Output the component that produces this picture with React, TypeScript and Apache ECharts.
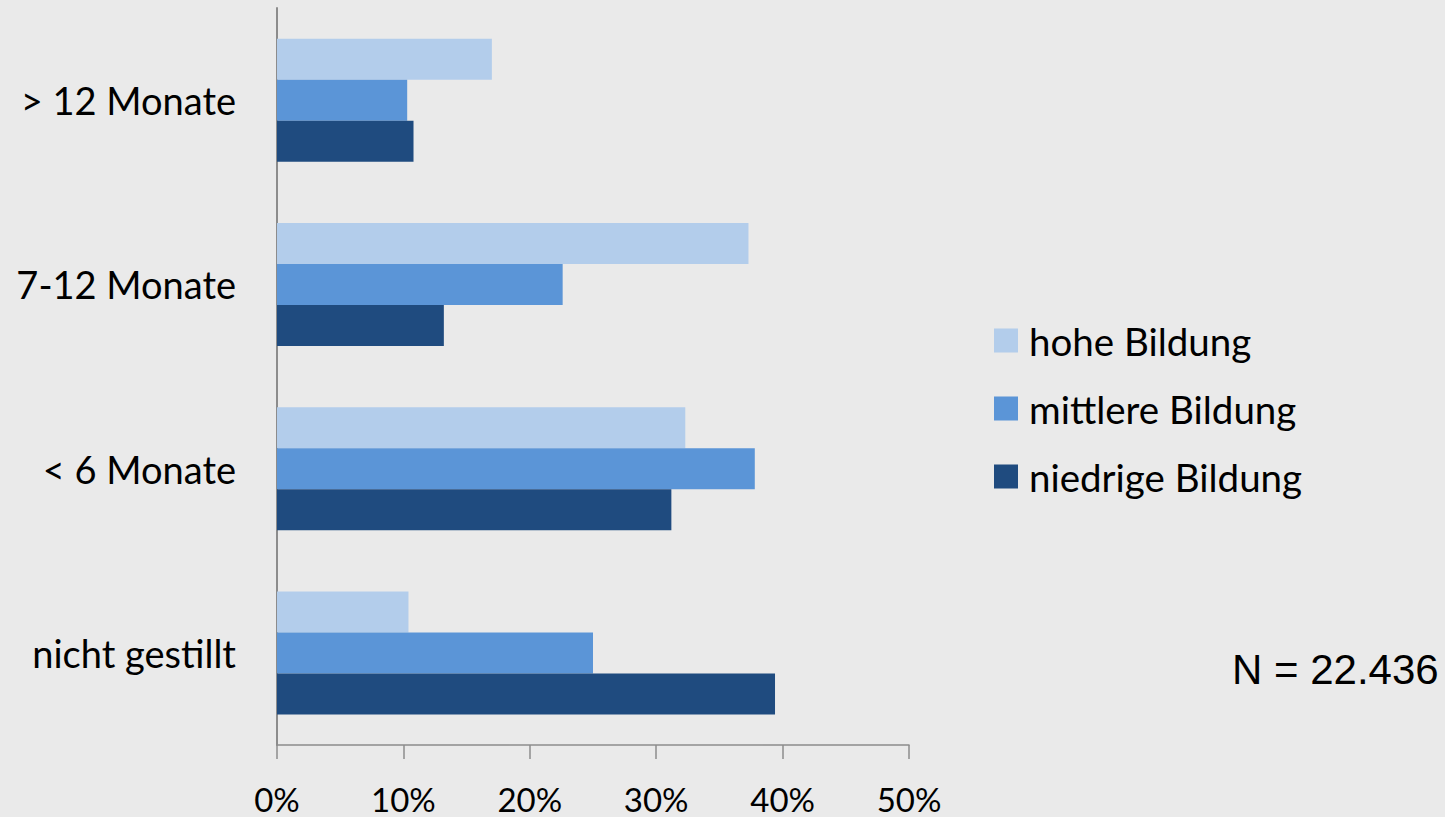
import React, { useEffect, useRef } from "react";
import * as echarts from "echarts";

const categories = ["nicht gestillt", "< 6 Monate", "7-12 Monate", "> 12 Monate"];
const seriesNames = ["hohe Bildung", "mittlere Bildung", "niedrige Bildung"];
const hohe = [10.4, 32.3, 37.3, 17.0];
const mittlere = [25.0, 37.8, 22.6, 10.3];
const niedrige = [39.4, 31.2, 13.2, 10.8];
const colors = ["#b3cdeb", "#5b95d7", "#1f4b7f"];
const noteText = "N = 22.436";

export default function App() {
  const ref = useRef<HTMLDivElement>(null);
  useEffect(() => {
    if (!ref.current) return;
    const chart = echarts.init(ref.current, null, { renderer: "svg" });
    const values = [hohe, mittlere, niedrige];
    chart.setOption({
      animation: false,
      backgroundColor: "#eaeaea",
      grid: { left: 277, right: 536, top: 8, bottom: 72, containLabel: false },
      legend: {
        orient: "vertical",
        left: 994,
        top: 321,
        padding: 0,
        itemWidth: 24,
        itemHeight: 24,
        itemGap: 29,
        icon: "rect",
        data: seriesNames,
        textStyle: {
          fontFamily: "Lato",
          fontSize: 38.5,
          color: "#000",
          lineHeight: 38,
          padding: [0, 0, 0, 6],
        },
      },
      xAxis: {
        type: "value",
        min: 0,
        max: 50,
        interval: 10,
        axisLine: { show: true, lineStyle: { color: "#8c8c8c", width: 1.5 } },
        axisTick: { show: true, length: 14, lineStyle: { color: "#8c8c8c", width: 1.5 } },
        splitLine: { show: false },
        axisLabel: {
          formatter: "{value}%",
          fontFamily: "Lato",
          fontSize: 33,
          color: "#000",
          margin: 37,
        },
      },
      yAxis: {
        type: "category",
        data: categories,
        axisLine: { show: true, lineStyle: { color: "#8c8c8c", width: 2 } },
        axisTick: { show: false },
        axisLabel: {
          fontFamily: "Lato",
          fontSize: 38,
          color: "#000",
          margin: 41,
        },
      },
      series: seriesNames.map((name, i) => ({
        name,
        type: "bar",
        data: values[i],
        barWidth: 41,
        barGap: "0%",
        itemStyle: { color: colors[i] },
      })),
      graphic: [
        {
          type: "text",
          left: 1232,
          top: 648,
          style: {
            text: noteText,
            fontFamily: "Liberation Sans",
            fontSize: 42,
            fill: "#000",
          },
        },
      ],
    });
    return () => chart.dispose();
  }, []);
  return <div ref={ref} style={{ width: 1445, height: 817, position: "absolute", left: 0, top: 0 }} />;
}
